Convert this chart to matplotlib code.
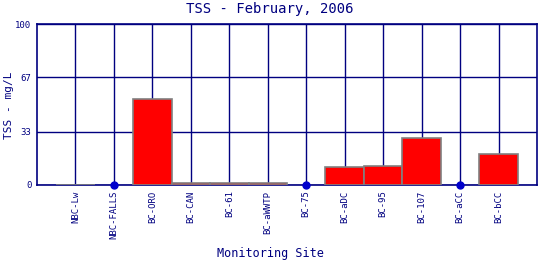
import matplotlib
matplotlib.use("Agg")
import matplotlib.pyplot as plt
import numpy as np

sites = ["NBC-Lw", "NBC-FALLS", "BC-ORO", "BC-CAN", "BC-61", "BC-aWWTP",
         "BC-75", "BC-aDC", "BC-95", "BC-107", "BC-aCC", "BC-bCC"]
tss = [0.3, None, 53.7, 1.0, 1.5, 1.5, None, 11.2, 11.8, 29.0, None, 19.0]
yticks = [0, 33, 67, 100]

navy = "#000080"
plt.rcParams['font.family'] = ['DejaVu Sans Mono']

fig = plt.figure(figsize=(5.4, 2.6), dpi=100)
ax = fig.add_axes([37/540, 1-185/260, 500/540, 161/260])

x = np.arange(1, len(sites)+1)
for xi, v in zip(x, tss):
    if v is None:
        ax.plot([xi], [0], 'o', color="#0000cc", ms=5, zorder=5, clip_on=False)
    else:
        ax.bar(xi, v, width=1.0, color="red", edgecolor="#808080", linewidth=1.2, zorder=3)

ax.set_xlim(0, len(sites)+1)
ax.set_ylim(0, 100)
ax.set_xticks(x)
ax.set_xticklabels(sites, rotation=90, fontsize=6.5, color=navy)
ax.set_yticks(yticks)
ax.set_yticklabels([str(t) for t in yticks], fontsize=6.5, color=navy)
ax.tick_params(length=0, pad=4)
ax.grid(True, color=navy, linewidth=1, zorder=1)
ax.set_axisbelow(True)
for s in ax.spines.values():
    s.set_color(navy)
    s.set_linewidth(1.2)

fig.text(0.5, 1-9/260, "TSS - February, 2006", ha="center", va="center", fontsize=10, color=navy)
fig.text(0.5, 1-254/260, "Monitoring Site", ha="center", va="center", fontsize=8.5, color=navy)
fig.text(9/540, 1-105/260, "TSS - mg/L", ha="center", va="center", rotation=90, fontsize=8, color=navy)

fig.savefig("out.png", dpi=100)
